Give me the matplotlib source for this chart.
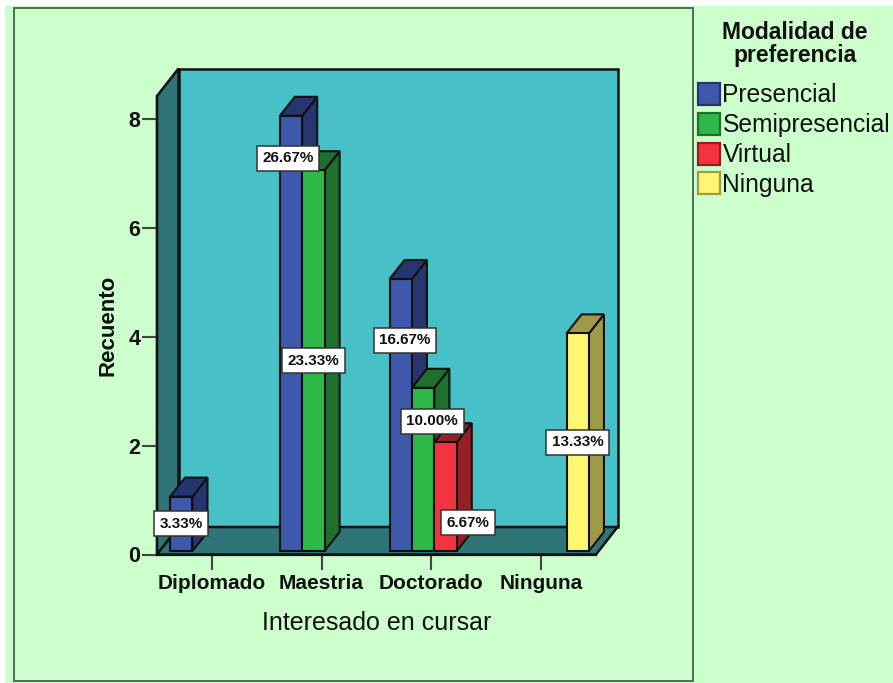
import matplotlib
matplotlib.use("Agg")
import matplotlib.pyplot as plt
from matplotlib.patches import Polygon, Patch, Rectangle

plt.rcParams['font.family'] = ['Liberation Sans', 'DejaVu Sans']

# data
categorias = ["Diplomado", "Maestria", "Doctorado", "Ninguna"]
series = ["Presencial", "Semipresencial", "Virtual", "Ninguna"]
presencial = [1, 8, 5, 0]
semipresencial = [0, 7, 3, 0]
virtual = [0, 0, 2, 0]
ninguna = [0, 0, 0, 4]
valores = [presencial, semipresencial, virtual, ninguna]
porcentajes = [
    ["3.33%", "26.67%", "16.67%", ""],
    ["", "23.33%", "10.00%", ""],
    ["", "", "6.67%", ""],
    ["", "", "", "13.33%"],
]
y_ticks = [0, 2, 4, 6, 8]

# styles
colores = ["#3E58AC", "#2EB848", "#F5333F", "#FFF671"]
oscuros = ["#263570", "#1F6F2E", "#951F25", "#9E9A48"]
fondo = "#CCFFCC"
pared = "#47C1C7"
suelo = "#2F7577"
# label shift from the middle of the bar, pixels (x, y up)
desplaza = {
    (0, 1): (-3, 175),
    (0, 2): (4, 75),
    (1, 2): (9, 48),
    (2, 2): (22, -26),
}

W, H = 893, 683
fig = plt.figure(figsize=(W / 100, H / 100), dpi=100, facecolor=fondo)

fig.add_artist(Rectangle((0, 0), 5 / W, 1, transform=fig.transFigure, fc="white", ec="none", zorder=-3))
fig.add_artist(Rectangle((0, 1 - 6 / H), 1, 6 / H, transform=fig.transFigure, fc="white", ec="none", zorder=-3))
fig.add_artist(Rectangle((14 / W, 1 - 681 / H), 679 / W, 673 / H, transform=fig.transFigure,
                         fc=fondo, ec="#4F6B55", lw=1.4, zorder=-2))

izq, der, arr, aba = 157, 596, 96, 554.5
ax = fig.add_axes([izq / W, 1 - aba / H, (der - izq) / W, (aba - arr) / H])
ax.set_xlim(-0.5, 3.5)
esc_x = (der - izq) / 4
esc_y = 54.4
ax.set_ylim(0, (aba - arr) / esc_y)
ax.patch.set_alpha(0)

def px(dx):
    return dx / esc_x

def py(dy):
    return dy / esc_y

# walls and floor
prof_x, prof_y = px(21.5), py(27.5)
x0, x1 = ax.get_xlim()
y1 = ax.get_ylim()[1]
ax.add_patch(Rectangle((x0 + prof_x, prof_y), x1 - x0, y1, fc=pared, ec="#111111", lw=1.8,
                       clip_on=False, zorder=1))
ax.add_patch(Polygon([(x0, 0), (x0 + prof_x, prof_y), (x0 + prof_x, y1 + prof_y), (x0, y1)],
                     fc=suelo, ec="#111111", lw=1.8, clip_on=False, zorder=1))
ax.add_patch(Polygon([(x0, 0), (x1, 0), (x1 + prof_x, prof_y), (x0 + prof_x, prof_y)],
                     fc=suelo, ec="#111111", lw=1.8, clip_on=False, zorder=1))

# bars
ancho = px(22.4)
base_x, base_y = px(3), py(3.5)
bar_dx, bar_dy = px(15), py(19)
z = 3
for i, cat in enumerate(categorias):
    for s in range(len(series)):
        v = valores[s][i]
        if v == 0:
            continue
        xl = i + base_x + (s - 2) * ancho
        xr = xl + ancho
        b = base_y
        t = base_y + v
        ax.bar(xl, v, width=ancho, bottom=b, align="edge", color=colores[s], edgecolor="#111111",
               linewidth=1.5, zorder=z + 1, clip_on=False)
        ax.add_patch(Polygon([(xr, b), (xr + bar_dx, b + bar_dy), (xr + bar_dx, t + bar_dy), (xr, t)],
                             fc=oscuros[s], ec="#111111", lw=1.5, zorder=z, clip_on=False))
        ax.add_patch(Polygon([(xl, t), (xr, t), (xr + bar_dx, t + bar_dy), (xl + bar_dx, t + bar_dy)],
                             fc=oscuros[s], ec="#111111", lw=1.5, zorder=z, clip_on=False))
        z += 2

# percent labels
for i in range(len(categorias)):
    for s in range(len(series)):
        if porcentajes[s][i] == "":
            continue
        xl = i + base_x + (s - 2) * ancho
        dx, dy = desplaza.get((s, i), (0, 0))
        ax.annotate(porcentajes[s][i], (xl + ancho / 2, base_y + valores[s][i] / 2),
                    xytext=(dx * 0.72, dy * 0.72), textcoords="offset points",
                    ha="center", va="center", fontsize=11, fontweight="bold", color="#111111",
                    bbox=dict(boxstyle="square,pad=0.36", fc="white", ec="#333333", lw=1.1),
                    zorder=50, annotation_clip=False)

# axes
for lado in ["top", "right"]:
    ax.spines[lado].set_visible(False)
for lado in ["left", "bottom"]:
    ax.spines[lado].set_linewidth(1.6)
    ax.spines[lado].set_color("#111111")
    ax.spines[lado].set_zorder(2)
ax.set_xticks(range(len(categorias)))
ax.set_xticklabels(categorias, fontsize=15, fontweight="bold", color="#111111")
ax.set_yticks(y_ticks)
ax.set_yticklabels([str(t) for t in y_ticks], fontsize=15.5, fontweight="bold", color="#111111")
ax.tick_params(axis="y", length=10.5, width=1.5, color="#444444", pad=1.5)
ax.tick_params(axis="x", length=11, width=1.5, color="#444444", pad=3)
ax.set_xlabel("Interesado en cursar", fontsize=18, color="#111111", labelpad=13)
ax.set_ylabel("Recuento", fontsize=16, fontweight="bold", color="#111111", labelpad=7)

# legend
fig.text(795 / W, 1 - 44 / H, "Modalidad de\npreferencia", ha="center", va="center",
         fontsize=16.5, fontweight="bold", color="#111111", linespacing=1.0)
asas = [Patch(fc=c, ec=o, lw=1.6) for c, o in zip(colores, oscuros)]
ley = fig.legend(asas, series, loc="upper left",
                 bbox_to_anchor=(693 / W, 1 - 78 / H), frameon=False, fontsize=17.7,
                 handlelength=0.9, handleheight=1.0, handletextpad=0.1,
                 labelspacing=0.22, borderpad=0.2, borderaxespad=0)
for t in ley.get_texts():
    t.set_color("#111111")

fig.savefig("out.png", dpi=100, facecolor=fondo)
